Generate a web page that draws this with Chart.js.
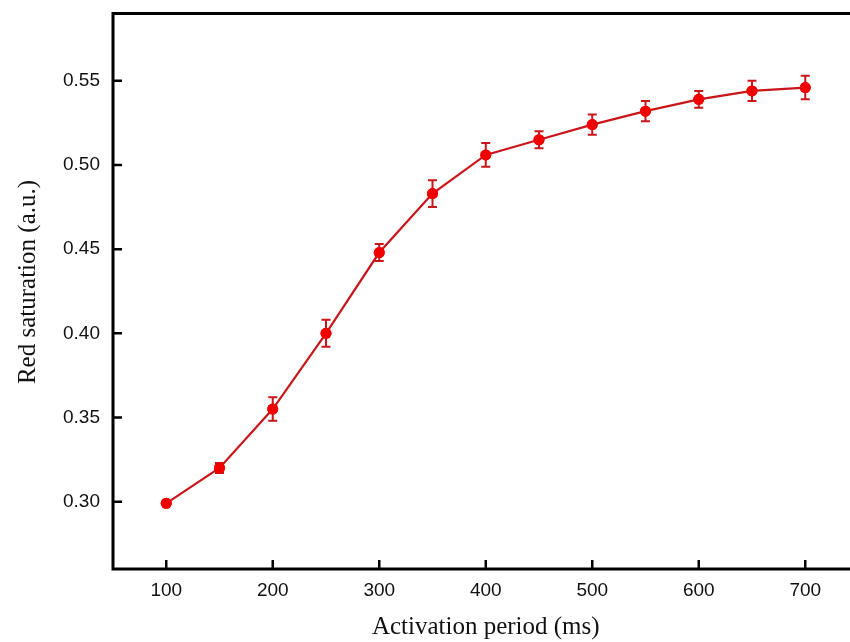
<!DOCTYPE html>
<html lang="en">
<head>
  <meta charset="UTF-8"/>
  <title>Red saturation vs activation period</title>
  <script src="https://cdn.jsdelivr.net/npm/chart.js"></script>
  <style>
    html, body { margin: 0; padding: 0; background: #fff; overflow: hidden; }
    #wrap { width: 850px; height: 642px; overflow: hidden; position: relative; }
    canvas { display: block; }
  </style>
</head>
<body>
  <div id="wrap"><canvas id="satChart" width="870" height="642"></canvas></div>

  <script>
    // measured points: activation period (ms) -> red saturation, with std error
    const periods    = [100, 150, 200, 250, 300, 350, 400, 450, 500, 550, 600, 650, 700];
    const saturation = [0.299, 0.320, 0.355, 0.400, 0.448, 0.483, 0.506, 0.515, 0.524, 0.532, 0.539, 0.544, 0.546];
    const errors     = [0.001, 0.003, 0.007, 0.008, 0.005, 0.008, 0.007, 0.005, 0.006, 0.006, 0.005, 0.006, 0.007];

    const xTicks = [100, 200, 300, 400, 500, 600, 700];
    const yTicks = [0.30, 0.35, 0.40, 0.45, 0.50, 0.55];

    const yTitle = 'Red saturation (a.u.)';

    const LINE_RED = '#c8161a';
    const DOT_RED = '#f20000';
    const INK = '#111';

    const tickFont = { family: 'Liberation Sans', size: 19 };
    const titleFont = { family: 'Liberation Serif', size: 25 };

    // vertical error bars with small caps, dots redrawn on top
    const errorBars = {
      id: 'errorBars',
      afterDatasetsDraw(chart) {
        const { ctx, scales: { x, y } } = chart;
        ctx.save();
        ctx.strokeStyle = LINE_RED;
        ctx.lineWidth = 2;
        periods.forEach((p, i) => {
          const px = x.getPixelForValue(p);
          const top = y.getPixelForValue(saturation[i] + errors[i]);
          const bot = y.getPixelForValue(saturation[i] - errors[i]);
          ctx.beginPath();
          ctx.moveTo(px, top); ctx.lineTo(px, bot);
          ctx.moveTo(px - 4.5, top); ctx.lineTo(px + 4.5, top);
          ctx.moveTo(px - 4.5, bot); ctx.lineTo(px + 4.5, bot);
          ctx.stroke();
        });
        const meta = chart.getDatasetMeta(0);
        ctx.fillStyle = DOT_RED;
        meta.data.forEach(pt => {
          ctx.beginPath();
          ctx.arc(pt.x, pt.y, 5.5, 0, Math.PI * 2);
          ctx.fill();
        });
        ctx.restore();
      }
    };

    // closed black frame, inward tick marks and the rotated y title
    const frame = {
      id: 'frame',
      afterDraw(chart) {
        const { ctx, chartArea: a, scales: { x, y } } = chart;
        ctx.save();
        ctx.strokeStyle = '#000';
        ctx.lineWidth = 3;
        ctx.strokeRect(a.left, a.top, a.right - a.left, a.bottom - a.top);
        ctx.lineWidth = 2.5;
        ctx.beginPath();
        xTicks.forEach(v => {
          const px = x.getPixelForValue(v);
          ctx.moveTo(px, a.bottom); ctx.lineTo(px, a.bottom - 9);
        });
        yTicks.forEach(v => {
          const py = y.getPixelForValue(v);
          ctx.moveTo(a.left, py); ctx.lineTo(a.left + 9, py);
        });
        ctx.stroke();

        ctx.translate(28, 282);
        ctx.rotate(-Math.PI / 2);
        ctx.fillStyle = INK;
        ctx.font = `${titleFont.size}px "${titleFont.family}"`;
        ctx.textAlign = 'center';
        ctx.textBaseline = 'middle';
        ctx.fillText(yTitle, 0, 0);
        ctx.restore();
      }
    };

    new Chart(document.getElementById('satChart'), {
      type: 'line',
      data: {
        datasets: [{
          data: periods.map((p, i) => ({ x: p, y: saturation[i] })),
          borderColor: LINE_RED,
          borderWidth: 2.2,
          pointRadius: 5.5,
          pointBackgroundColor: DOT_RED,
          pointBorderWidth: 0,
          tension: 0
        }]
      },
      options: {
        responsive: false,
        animation: false,
        layout: { padding: { top: 13.5, right: 11.5, bottom: 0, left: 0 } },
        plugins: { legend: { display: false }, tooltip: { enabled: false } },
        scales: {
          x: {
            type: 'linear',
            min: 50, max: 750,
            afterFit(s) { s.height = 73; s.paddingLeft = 0; s.paddingRight = 0; },
            afterBuildTicks(s) { s.ticks = xTicks.map(v => ({ value: v })); },
            grid: { display: false, drawTicks: false },
            border: { display: false },
            ticks: { font: tickFont, color: INK, padding: 10, maxRotation: 0 },
            title: { display: true, text: 'Activation period (ms)', font: titleFont, color: INK, padding: { top: 0, bottom: 0 } }
          },
          y: {
            min: 0.26, max: 0.59,
            afterFit(s) { s.width = 113; s.paddingTop = 0; s.paddingBottom = 0; },
            afterBuildTicks(s) { s.ticks = yTicks.map(v => ({ value: v })); },
            grid: { display: false, drawTicks: false },
            border: { display: false },
            ticks: { font: tickFont, color: INK, padding: 13, callback: v => v.toFixed(2) }
          }
        }
      },
      plugins: [errorBars, frame]
    });
  </script>
</body>
</html>
